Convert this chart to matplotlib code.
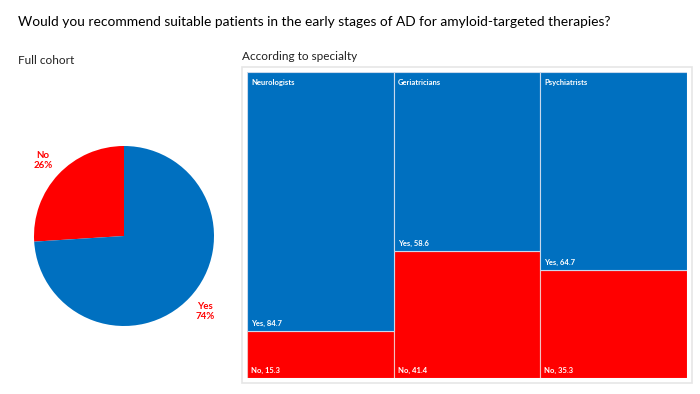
import numpy as np
import matplotlib.pyplot as plt
from matplotlib.patches import Rectangle

# data
pie_labels = ['No', 'Yes']
pie_values = [26, 74]
specialties = ['Neurologists', 'Geriatricians', 'Psychiatrists']
yes_vals = [84.7, 58.6, 64.7]
no_vals = [15.3, 41.4, 35.3]

BLUE = '#0070C0'
RED = '#FF0000'
W, H = 700, 394

plt.rcParams['font.family'] = ['Lato', 'DejaVu Sans']
fig = plt.figure(figsize=(W / 100, H / 100), dpi=100)


def px_axes(x0, y0, x1, y1):
    # pixel box (top-left origin) -> figure axes
    return fig.add_axes([x0 / W, 1 - y1 / H, (x1 - x0) / W, (y1 - y0) / H])


fig.text(18 / W, 1 - 22 / H, 'Would you recommend suitable patients in the early stages of AD for amyloid-targeted therapies?',
         fontsize=9.9, va='center', ha='left', color='black')
fig.text(18 / W, 1 - 60 / H, 'Full cohort', fontsize=8.5, va='center', ha='left', color='#222222')
fig.text(242 / W, 1 - 57 / H, 'According to specialty', fontsize=8.5, va='center', ha='left', color='#222222')

# pie
ax1 = px_axes(34, 146, 214, 326)
wedges, texts = ax1.pie(pie_values, colors=[RED, BLUE], startangle=90, counterclock=True,
                        labels=[f'{l}\n{v}%' for l, v in zip(pie_labels, pie_values)],
                        labeldistance=1.23, radius=1.0,
                        textprops=dict(color=RED, fontsize=7, fontweight='bold'))
for t in texts:
    t.set_ha('center')
    t.set_va('center')
ax1.set_xlim(-1, 1)
ax1.set_ylim(-1, 1)
ax1.set_aspect('equal')

# treemap frame
frame = Rectangle((242 / W, 1 - 383 / H), 450 / W, 316 / H, transform=fig.transFigure,
                  facecolor='white', edgecolor='#e6e6e6', linewidth=1.2, zorder=-1)
fig.patches.append(frame)

ax2 = px_axes(247, 72, 687, 378)
ax2.patch.set_alpha(0)
x = np.arange(len(specialties))
ax2.bar(x, no_vals, width=1, align='edge', color=RED, edgecolor='#f2c0c0', linewidth=0.8)
ax2.bar(x, yes_vals, bottom=no_vals, width=1, align='edge', color=BLUE, edgecolor='#c8d8ec', linewidth=0.8)
ax2.set_xlim(0, len(specialties))
ax2.set_ylim(0, 100)
ax2.axis('off')

lbl = dict(color='white', fontsize=5.5, fontweight='bold', ha='left')
for i, name in enumerate(specialties):
    ax2.annotate(name, (i, 100), xytext=(3, -5), textcoords='offset points', va='top', **lbl)
    ax2.annotate(f'Yes, {yes_vals[i]}', (i, no_vals[i]), xytext=(3, 3), textcoords='offset points',
                 va='bottom', **lbl)
    ax2.annotate(f'No, {no_vals[i]}', (i, 0), xytext=(3, 3), textcoords='offset points', va='bottom', **lbl)

fig.savefig('out.png', dpi=100)
